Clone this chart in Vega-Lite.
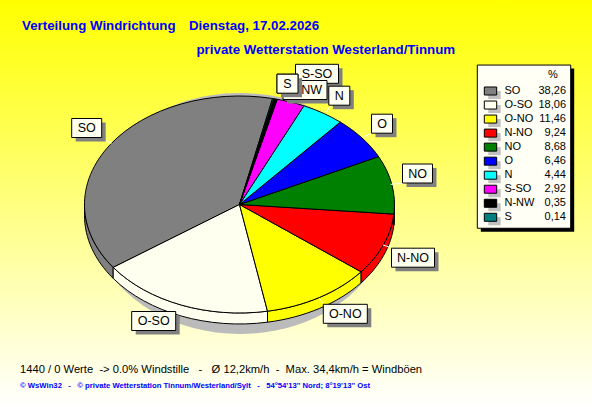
{
"$schema":"https://vega.github.io/schema/vega-lite/v6.json",
"width":592,"height":407,"padding":0,"autosize":{"type":"none"},
"config":{"view":{"stroke":null},"axis":{"disable":true}},
"view":{"stroke":null,"fill":{"gradient":"linear","x1":0,"y1":0,"x2":0,"y2":1,"stops":[{"offset":0,"color":"#FFFF00"},{"offset":1,"color":"#FFFFFF"}]}},
"datasets":{"slices":[
{"dir":"SO","pct":38.26,"txt":"38,26","rank":0},
{"dir":"O-SO","pct":18.06,"txt":"18,06","rank":1},
{"dir":"O-NO","pct":11.46,"txt":"11,46","rank":2},
{"dir":"N-NO","pct":9.24,"txt":"9,24","rank":3},
{"dir":"NO","pct":8.68,"txt":"8,68","rank":4},
{"dir":"O","pct":6.46,"txt":"6,46","rank":5},
{"dir":"N","pct":4.44,"txt":"4,44","rank":6},
{"dir":"S-SO","pct":2.92,"txt":"2,92","rank":7},
{"dir":"N-NW","pct":0.35,"txt":"0,35","rank":8},
{"dir":"S","pct":0.14,"txt":"0,14","rank":9}
]},
"resolve":{"scale":{"x":"independent","y":"independent","shape":"independent","fill":"independent"}},
"layer":[
{"data":{"name":"slices"},"transform":[{"filter":"datum.rank==0"}],
 "mark":{"type":"point","filled":true,"opacity":1,"fill":"#BBBBBB","strokeWidth":0,"size":4,"shape":"M-150,0A150,120.5 0 1 0 150,0A150,120.5 0 1 0 -150,0Z"},
 "encoding":{"x":{"field":"rank","type":"quantitative","scale":{"domain":[0,9],"range":[240,240],"zero":false,"nice":false}},
 "y":{"field":"rank","type":"quantitative","scale":{"domain":[0,9],"range":[213.5,213.5],"zero":false,"nice":false}}}},
{"data":{"name":"slices"},"transform":[{"filter":"datum.rank<=4"}],
 "mark":{"type":"point","filled":true,"opacity":1,"stroke":"#000000","strokeWidth":1,"size":4},
 "encoding":{"x":{"field":"rank","type":"quantitative","scale":{"domain":[0,9],"range":[239.5,239.5],"zero":false,"nice":false}},
 "y":{"field":"rank","type":"quantitative","scale":{"domain":[0,9],"range":[204.5,204.5],"zero":false,"nice":false}},
 "fill":{"field":"dir","type":"nominal","legend":null,"scale":{"domain":["SO","O-SO","O-NO","N-NO","NO"],"range":["#808080","#FFFFF0","#FFFF00","#FF0000","#008000"]}},
 "shape":{"field":"dir","type":"nominal","legend":null,"scale":{"domain":["SO","O-SO","O-NO","N-NO","NO"],"range":[
 "M-155,0A155,108.5 0 0 0 -126.3,62.9V73.9A155,108.5 0 0 1 -155,11Z",
 "M-126.3,62.9A155,108.5 0 0 0 28,106.7V117.7A155,108.5 0 0 1 -126.3,73.9Z",
 "M28,106.7A155,108.5 0 0 0 121.6,67.3V78.3A155,108.5 0 0 1 28,117.7Z",
 "M121.6,67.3A155,108.5 0 0 0 154.4,9.6V20.6A155,108.5 0 0 1 121.6,78.3Z",
 "M154.4,9.6A155,108.5 0 0 0 155,0V11A155,108.5 0 0 1 154.4,20.6Z"]}}}},
{"data":{"name":"slices"},
 "mark":{"type":"point","filled":true,"opacity":1,"stroke":"#000000","strokeWidth":1,"size":4},
 "encoding":{"x":{"field":"rank","type":"quantitative","scale":{"domain":[0,9],"range":[239.5,239.5],"zero":false,"nice":false}},
 "y":{"field":"rank","type":"quantitative","scale":{"domain":[0,9],"range":[204.5,204.5],"zero":false,"nice":false}},
 "fill":{"field":"dir","type":"nominal","legend":null,"scale":{"domain":["SO","O-SO","O-NO","N-NO","NO","O","N","S-SO","N-NW","S"],"range":["#808080","#FFFFF0","#FFFF00","#FF0000","#008000","#0000FF","#00FFFF","#FF00FF","#000000","#008080"]}},
 "shape":{"field":"dir","type":"nominal","legend":null,"scale":{"domain":["SO","O-SO","O-NO","N-NO","NO","O","N","S-SO","N-NW","S"],"range":[
 "M0,0L33.1,-106A155,108.5 0 0 0 -126.3,62.9Z",
 "M0,0L-126.3,62.9A155,108.5 0 0 0 28,106.7Z",
 "M0,0L28,106.7A155,108.5 0 0 0 121.6,67.3Z",
 "M0,0L121.6,67.3A155,108.5 0 0 0 154.4,9.6Z",
 "M0,0L154.4,9.6A155,108.5 0 0 0 139.1,-47.9Z",
 "M0,0L139.1,-47.9A155,108.5 0 0 0 100.8,-82.4Z",
 "M0,0L100.8,-82.4A155,108.5 0 0 0 64.4,-98.7Z",
 "M0,0L64.4,-98.7A155,108.5 0 0 0 37.7,-105.2Z",
 "M0,0L37.7,-105.2A155,108.5 0 0 0 34.3,-105.8Z",
 "M0,0L34.3,-105.8A155,108.5 0 0 0 33.1,-106Z"]}}}},
{"data":{"name":"slices"},"transform":[{"filter":"indexof(['SO','NO','N-NO','O-NO','O','N'],datum.dir)>=0"}],
 "mark":{"type":"point","filled":false,"opacity":1,"stroke":"#FFFFFF","strokeWidth":1,"size":4},
 "encoding":{"x":{"field":"rank","type":"quantitative","scale":{"domain":[0,9],"range":[239.5,239.5],"zero":false,"nice":false}},
 "y":{"field":"rank","type":"quantitative","scale":{"domain":[0,9],"range":[204.5,204.5],"zero":false,"nice":false}},
 "shape":{"field":"dir","type":"nominal","legend":null,"scale":{"domain":["SO","NO","N-NO","O-NO","O","N"],"range":["M-134.5,-64.5L-127.8,-61.2","M151.2,-20.2L163.8,-21.2","M143.5,40.5L149.5,42.5","M79.8,93.8L83.8,98.8","M123.8,-67.2L131.5,-71.5","M86.5,-92.8L91.2,-98.5"]}}}},
{"data":{"name":"slices"},
 "mark":{"type":"point","filled":true,"opacity":1,"fill":"#808080","strokeWidth":0,"size":4},
 "encoding":{"x":{"field":"rank","type":"quantitative","scale":{"domain":[0,1,2,3,4,5,6,7,8,9],"range":[90.7,157.7,349.3,417,421.5,386,343.3,321,309,291.5],"zero":false,"nice":false}},
 "y":{"field":"rank","type":"quantitative","scale":{"domain":[0,1,2,3,4,5,6,7,8,9],"range":[132,325,317.8,261.7,177.5,127.7,99.7,77.8,94,87.7],"zero":false,"nice":false}},
 "shape":{"field":"dir","type":"nominal","legend":null,"scale":{"domain":["SO","O-SO","O-NO","N-NO","NO","O","N","S-SO","N-NW","S"],"range":["M-15,-9.5H15V9.5H-15Z","M-22,-9.5H22V9.5H-22Z","M-22,-9.5H22V9.5H-22Z","M-21.5,-9.5H21.5V9.5H-21.5Z","M-15,-9.5H15V9.5H-15Z","M-10.5,-9.5H10.5V9.5H-10.5Z","M-10.5,-9.5H10.5V9.5H-10.5Z","M-21.5,-9.5H21.5V9.5H-21.5Z","M-22,-9.5H22V9.5H-22Z","M-10.5,-9.5H10.5V9.5H-10.5Z"]}}}},
{"data":{"name":"slices"},
 "mark":{"type":"point","filled":true,"opacity":1,"fill":"#FFFFF0","stroke":"#000000","strokeWidth":1,"size":4},
 "encoding":{"x":{"field":"rank","type":"quantitative","scale":{"domain":[0,1,2,3,4,5,6,7,8,9],"range":[86.7,153.7,345.3,413,417.5,382,339.3,317,305,287.5],"zero":false,"nice":false}},
 "y":{"field":"rank","type":"quantitative","scale":{"domain":[0,1,2,3,4,5,6,7,8,9],"range":[128,321,313.8,257.7,173.5,123.7,95.7,73.8,90,83.7],"zero":false,"nice":false}},
 "shape":{"field":"dir","type":"nominal","legend":null,"scale":{"domain":["SO","O-SO","O-NO","N-NO","NO","O","N","S-SO","N-NW","S"],"range":["M-15,-9.5H15V9.5H-15Z","M-22,-9.5H22V9.5H-22Z","M-22,-9.5H22V9.5H-22Z","M-21.5,-9.5H21.5V9.5H-21.5Z","M-15,-9.5H15V9.5H-15Z","M-10.5,-9.5H10.5V9.5H-10.5Z","M-10.5,-9.5H10.5V9.5H-10.5Z","M-21.5,-9.5H21.5V9.5H-21.5Z","M-22,-9.5H22V9.5H-22Z","M-10.5,-9.5H10.5V9.5H-10.5Z"]}}}},
{"data":{"name":"slices"},"transform":[{"filter":"datum.dir!='S'"}],
 "mark":{"type":"text","font":"Liberation Sans","fontSize":12.5,"color":"#000000","align":"center","baseline":"middle"},
 "encoding":{"text":{"field":"dir"},"x":{"field":"rank","type":"quantitative","scale":{"domain":[0,1,2,3,4,5,6,7,8,9],"range":[86.7,153.7,345.3,413,417.5,382,339.3,317,305,287.5],"zero":false,"nice":false}},
 "y":{"field":"rank","type":"quantitative","scale":{"domain":[0,1,2,3,4,5,6,7,8,9],"range":[128,321,313.8,257.7,173.5,123.7,95.7,73.8,90,83.7],"zero":false,"nice":false}}}},
{"data":{"name":"slices"},"transform":[{"filter":"datum.dir=='S'"}],
 "mark":{"type":"point","filled":true,"opacity":1,"fill":"#808080","strokeWidth":0,"size":4,"shape":"M-10.5,-9.5H10.5V9.5H-10.5Z"},
 "encoding":{"x":{"field":"rank","type":"quantitative","scale":{"domain":[0,9],"range":[291.5,291.5],"zero":false,"nice":false}},
 "y":{"field":"rank","type":"quantitative","scale":{"domain":[0,9],"range":[87.7,87.7],"zero":false,"nice":false}}}},
{"data":{"name":"slices"},"transform":[{"filter":"datum.dir=='S'"}],
 "mark":{"type":"point","filled":true,"opacity":1,"fill":"#FFFFF0","stroke":"#000000","strokeWidth":1,"size":4,"shape":"M-10.5,-9.5H10.5V9.5H-10.5Z"},
 "encoding":{"x":{"field":"rank","type":"quantitative","scale":{"domain":[0,9],"range":[287.5,287.5],"zero":false,"nice":false}},
 "y":{"field":"rank","type":"quantitative","scale":{"domain":[0,9],"range":[83.7,83.7],"zero":false,"nice":false}}}},
{"data":{"name":"slices"},"transform":[{"filter":"datum.dir=='S'"}],
 "mark":{"type":"text","font":"Liberation Sans","fontSize":12.5,"color":"#000000","align":"center","baseline":"middle"},
 "encoding":{"text":{"field":"dir"},"x":{"field":"rank","type":"quantitative","scale":{"domain":[0,9],"range":[287.5,287.5],"zero":false,"nice":false}},
 "y":{"field":"rank","type":"quantitative","scale":{"domain":[0,9],"range":[83.7,83.7],"zero":false,"nice":false}}}},
{"data":{"name":"slices"},"transform":[{"filter":"datum.rank==0"}],
 "mark":{"type":"point","filled":true,"opacity":1,"fill":"#000000","strokeWidth":0,"size":4,"shape":"M-46.7,-81.6H46.7V81.6H-46.7Z"},
 "encoding":{"x":{"field":"rank","type":"quantitative","scale":{"domain":[0,9],"range":[527.5,527.5],"zero":false,"nice":false}},
 "y":{"field":"rank","type":"quantitative","scale":{"domain":[0,9],"range":[150.2,150.2],"zero":false,"nice":false}}}},
{"data":{"name":"slices"},"transform":[{"filter":"datum.rank==0"}],
 "mark":{"type":"point","filled":true,"opacity":1,"fill":"#FFFFF5","stroke":"#000000","strokeWidth":1,"size":4,"shape":"M-46.7,-81.6H46.7V81.6H-46.7Z"},
 "encoding":{"x":{"field":"rank","type":"quantitative","scale":{"domain":[0,9],"range":[524,524],"zero":false,"nice":false}},
 "y":{"field":"rank","type":"quantitative","scale":{"domain":[0,9],"range":[146.65,146.65],"zero":false,"nice":false}}}},
{"data":{"name":"slices"},
 "mark":{"type":"point","filled":true,"opacity":1,"fill":"#C0C0C0","strokeWidth":0,"size":4,"shape":"M-6.2,-4H6.2V4H-6.2Z"},
 "encoding":{"x":{"field":"rank","type":"quantitative","scale":{"domain":[0,9],"range":[494.5,494.5],"zero":false,"nice":false}},
 "y":{"field":"rank","type":"quantitative","scale":{"domain":[0,9],"range":[95,221.3],"zero":false,"nice":false}}}},
{"data":{"name":"slices"},
 "mark":{"type":"point","filled":true,"opacity":1,"stroke":"#000000","strokeWidth":1,"size":4,"shape":"M-6.2,-4H6.2V4H-6.2Z"},
 "encoding":{"x":{"field":"rank","type":"quantitative","scale":{"domain":[0,9],"range":[490.5,490.5],"zero":false,"nice":false}},
 "y":{"field":"rank","type":"quantitative","scale":{"domain":[0,9],"range":[91,217.3],"zero":false,"nice":false}},
 "fill":{"field":"dir","type":"nominal","legend":null,"scale":{"domain":["SO","O-SO","O-NO","N-NO","NO","O","N","S-SO","N-NW","S"],"range":["#808080","#FFFFF0","#FFFF00","#FF0000","#008000","#0000FF","#00FFFF","#FF00FF","#000000","#008080"]}}}},
{"data":{"name":"slices"},
 "mark":{"type":"text","font":"Liberation Sans","fontSize":11,"color":"#000000","align":"left","baseline":"middle"},
 "encoding":{"text":{"field":"dir"},"x":{"field":"rank","type":"quantitative","scale":{"domain":[0,9],"range":[504.5,504.5],"zero":false,"nice":false}},
 "y":{"field":"rank","type":"quantitative","scale":{"domain":[0,9],"range":[91,217.3],"zero":false,"nice":false}}}},
{"data":{"name":"slices"},
 "mark":{"type":"text","font":"Liberation Sans","fontSize":11,"color":"#000000","align":"right","baseline":"middle"},
 "encoding":{"text":{"field":"txt"},"x":{"field":"rank","type":"quantitative","scale":{"domain":[0,9],"range":[566,566],"zero":false,"nice":false}},
 "y":{"field":"rank","type":"quantitative","scale":{"domain":[0,9],"range":[91,217.3],"zero":false,"nice":false}}}},
{"data":{"values":[{"n":0,"t":"%"}]},
 "mark":{"type":"text","font":"Liberation Sans","fontSize":11,"color":"#000000","align":"center","baseline":"middle"},
 "encoding":{"text":{"field":"t"},"x":{"field":"n","type":"quantitative","scale":{"domain":[0,1],"range":[553,553],"zero":false,"nice":false}},
 "y":{"field":"n","type":"quantitative","scale":{"domain":[0,1],"range":[75,75],"zero":false,"nice":false}}}},
{"data":{"values":[{"n":0,"t":"Verteilung Windrichtung"},{"n":1,"t":"Dienstag, 17.02.2026"},{"n":2,"t":"private Wetterstation Westerland/Tinnum"}]},
 "mark":{"type":"text","font":"Liberation Sans","fontWeight":"bold","fontSize":13.3,"color":"#0000FF","align":"left","baseline":"middle"},
 "encoding":{"text":{"field":"t"},"x":{"field":"n","type":"quantitative","scale":{"domain":[0,1,2],"range":[22,189,196.5],"zero":false,"nice":false}},
 "y":{"field":"n","type":"quantitative","scale":{"domain":[0,1,2],"range":[25.5,25.5,49.5],"zero":false,"nice":false}}}},
{"data":{"values":[{"n":0,"t":"1440 / 0 Werte\u00A0 -> 0.0% Windstille\u00A0\u00A0 -\u00A0\u00A0 Ø 12,2km/h\u00A0 -\u00A0 Max. 34,4km/h = Windböen"}]},
 "mark":{"type":"text","font":"Liberation Sans","fontSize":11.2,"color":"#000000","align":"left","baseline":"middle"},
 "encoding":{"text":{"field":"t"},"x":{"field":"n","type":"quantitative","scale":{"domain":[0,1],"range":[20,20],"zero":false,"nice":false}},
 "y":{"field":"n","type":"quantitative","scale":{"domain":[0,1],"range":[369.5,369.5],"zero":false,"nice":false}}}},
{"data":{"values":[{"n":0,"t":"© WsWin32\u00A0\u00A0 -\u00A0\u00A0 © private Wetterstation Tinnum/Westerland/Sylt\u00A0\u00A0 -\u00A0\u00A0 54°54'13'' Nord; 8°19'13'' Ost"}]},
 "mark":{"type":"text","font":"Liberation Sans","fontWeight":"bold","fontSize":7.7,"color":"#0000FF","align":"left","baseline":"middle"},
 "encoding":{"text":{"field":"t"},"x":{"field":"n","type":"quantitative","scale":{"domain":[0,1],"range":[20,20],"zero":false,"nice":false}},
 "y":{"field":"n","type":"quantitative","scale":{"domain":[0,1],"range":[386,386],"zero":false,"nice":false}}}}
]
}
